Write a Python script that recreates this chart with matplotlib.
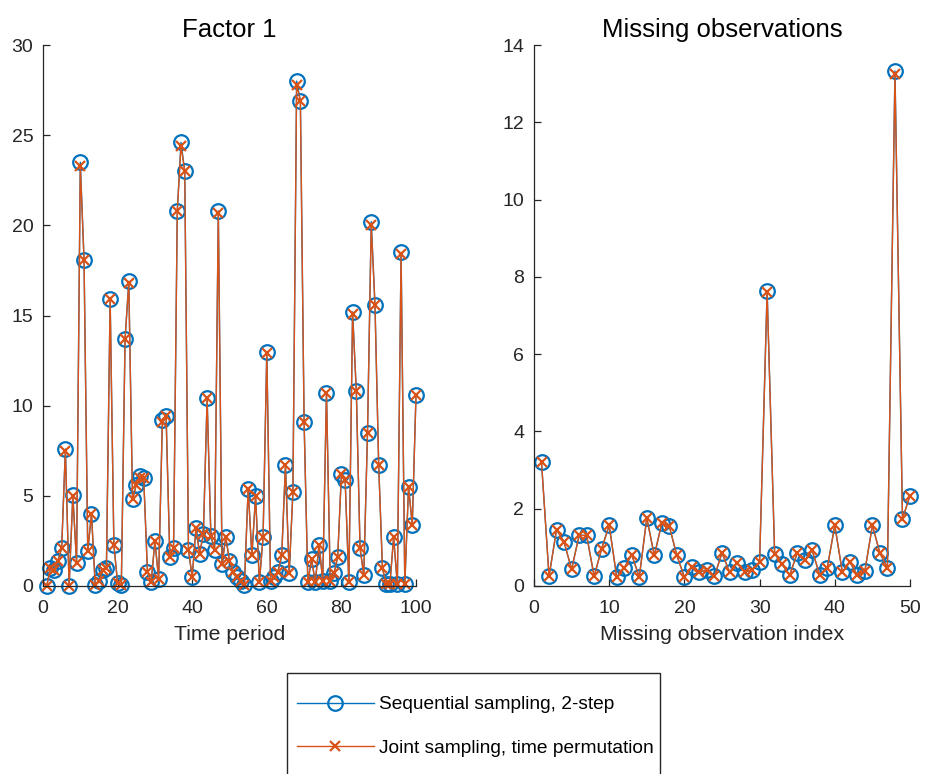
import matplotlib
matplotlib.use('Agg')
import matplotlib.pyplot as plt
from matplotlib.lines import Line2D
from matplotlib.patches import Rectangle

plt.rcParams['font.family'] = ['Liberation Sans', 'DejaVu Sans']

# ---------------- data ----------------
time_period = list(range(1, 101))
factor_sequential = [
    0.0, 1.0, 0.9, 1.4, 2.1, 7.6, 0.0, 5.05, 1.3, 23.5,
    18.1, 1.95, 4.0, 0.05, 0.25, 0.9, 1.0, 15.9, 2.3, 0.15,
    0.05, 13.7, 16.9, 4.8, 5.6, 6.1, 6.0, 0.8, 0.2, 2.5,
    0.4, 9.2, 9.45, 1.6, 2.1, 20.8, 24.6, 23.0, 2.0, 0.5,
    3.2, 1.8, 2.9, 10.4, 2.8, 2.0, 20.8, 1.2, 2.7, 1.4,
    0.8, 0.5, 0.3, 0.05, 5.4, 1.7, 5.0, 0.2, 2.7, 13.0,
    0.3, 0.5, 0.8, 1.7, 6.7, 0.7, 5.2, 28.0, 26.9, 9.1,
    0.2, 1.5, 0.2, 2.3, 0.3, 10.7, 0.3, 0.7, 1.6, 6.2,
    5.9, 0.2, 15.2, 10.8, 2.1, 0.6, 8.5, 20.2, 15.6, 6.7,
    1.0, 0.1, 0.1, 2.7, 0.1, 18.5, 0.1, 5.5, 3.4, 10.6,
]
factor_joint = [
    0.0, 1.0, 0.9, 1.4, 2.1, 7.5, 0.0, 5.0, 1.3, 23.3,
    18.1, 1.95, 4.0, 0.05, 0.25, 0.9, 1.0, 15.9, 2.3, 0.15,
    0.05, 13.7, 16.8, 4.8, 5.6, 6.0, 6.0, 0.8, 0.2, 2.5,
    0.4, 9.1, 9.4, 1.6, 2.1, 20.8, 24.4, 23.0, 2.0, 0.5,
    3.2, 1.8, 2.9, 10.4, 2.8, 2.0, 20.7, 1.2, 2.7, 1.4,
    0.8, 0.5, 0.3, 0.05, 5.4, 1.7, 5.0, 0.2, 2.7, 12.9,
    0.3, 0.5, 0.8, 1.7, 6.7, 0.7, 5.2, 27.8, 26.9, 9.1,
    0.2, 1.5, 0.2, 2.3, 0.3, 10.7, 0.3, 0.7, 1.6, 6.2,
    5.9, 0.2, 15.1, 10.8, 2.1, 0.6, 8.5, 20.0, 15.6, 6.7,
    1.0, 0.1, 0.1, 2.7, 0.1, 18.4, 0.1, 5.5, 3.4, 10.6,
]

missing_index = list(range(1, 51))
missing_sequential = [
    3.2, 0.25, 1.46, 1.14, 0.43, 1.31, 1.31, 0.25, 0.97, 1.57,
    0.23, 0.47, 0.81, 0.23, 1.76, 0.79, 1.63, 1.54, 0.79, 0.23,
    0.49, 0.36, 0.42, 0.25, 0.86, 0.36, 0.59, 0.36, 0.42, 0.62,
    7.63, 0.84, 0.56, 0.28, 0.85, 0.66, 0.92, 0.28, 0.47, 1.57,
    0.36, 0.62, 0.28, 0.39, 1.57, 0.85, 0.47, 13.33, 1.74, 2.34,
]
missing_joint = [
    3.2, 0.25, 1.46, 1.14, 0.43, 1.31, 1.31, 0.25, 0.97, 1.57,
    0.23, 0.47, 0.81, 0.23, 1.76, 0.79, 1.63, 1.54, 0.79, 0.23,
    0.49, 0.36, 0.42, 0.25, 0.86, 0.36, 0.59, 0.36, 0.42, 0.62,
    7.6, 0.84, 0.56, 0.28, 0.85, 0.66, 0.92, 0.28, 0.47, 1.57,
    0.36, 0.62, 0.28, 0.39, 1.57, 0.85, 0.47, 13.25, 1.74, 2.34,
]

series_labels = ['Sequential sampling, 2-step', 'Joint sampling, time permutation']
blue = '#0072BD'
orange = '#D95319'
axcol = '#262626'

fig = plt.figure(figsize=(9.25, 7.74), dpi=100)

ax1 = fig.add_axes([43 / 925, 1 - 586 / 774, (416 - 43) / 925, (586 - 45) / 774])
ax2 = fig.add_axes([534 / 925, 1 - 586 / 774, (910 - 534) / 925, (586 - 45) / 774])


def draw(ax, x, s1, s2, title, xlabel, xlim, ylim, xt, yt):
    ax.plot(x, s1, color=blue, lw=1.0, marker='o', markersize=10.5,
            markerfacecolor='none', markeredgewidth=1.6, clip_on=False)
    ax.plot(x, s2, color=orange, lw=1.0, marker='x', markersize=7.5,
            markeredgewidth=1.6, clip_on=False)
    ax.set_xlim(*xlim)
    ax.set_ylim(*ylim)
    ax.set_xticks(xt)
    ax.set_yticks(yt)
    ax.set_title(title, fontsize=18.5, color='black', pad=6)
    ax.set_xlabel(xlabel, fontsize=15.3, color=axcol, labelpad=6)
    for sp in ['top', 'right']:
        ax.spines[sp].set_visible(False)
    for sp in ['left', 'bottom']:
        ax.spines[sp].set_color(axcol)
        ax.spines[sp].set_linewidth(0.9)
    ax.tick_params(direction='in', length=5, width=0.9, colors=axcol,
                   labelsize=14)
    ax.tick_params(axis='x', pad=10)
    ax.tick_params(axis='y', pad=7)


draw(ax1, time_period, factor_sequential, factor_joint, 'Factor 1', 'Time period',
     (0, 100), (0, 30), [0, 20, 40, 60, 80, 100], [0, 5, 10, 15, 20, 25, 30])
draw(ax2, missing_index, missing_sequential, missing_joint, 'Missing observations',
     'Missing observation index', (0, 50), (0, 14), [0, 10, 20, 30, 40, 50],
     [0, 2, 4, 6, 8, 10, 12, 14])

# legend
h1 = Line2D([], [], color=blue, lw=1.0, marker='o', markersize=10.5,
            markerfacecolor='none', markeredgewidth=1.6)
h2 = Line2D([], [], color=orange, lw=1.0, marker='x', markersize=7.5,
            markeredgewidth=1.6)
fig.legend([h1, h2], series_labels, loc='upper left',
           bbox_to_anchor=(297 / 925, 1 - 696 / 774), frameon=False,
           fontsize=13.8, handlelength=4.0, handletextpad=0.3,
           labelspacing=1.35, borderpad=0.0, borderaxespad=0.0)
fig.patches.append(Rectangle((287 / 925, -0.05), (660 - 287) / 925,
                             (1 - 673 / 774) + 0.05, transform=fig.transFigure,
                             fill=False, edgecolor=axcol, lw=1.0))

fig.savefig('out.png', dpi=100)
